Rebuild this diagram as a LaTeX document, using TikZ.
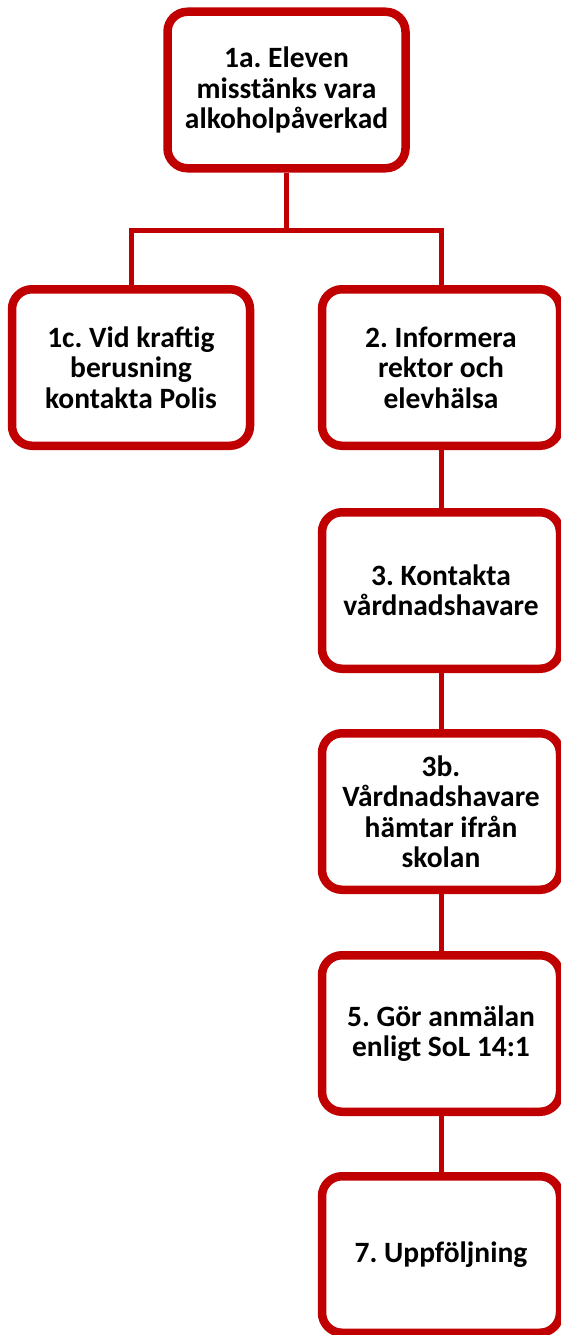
\documentclass[tikz,border=0pt]{standalone}
\usepackage{fontspec}
\setmainfont{Carlito}
\usetikzlibrary{shadows}
\definecolor{boxred}{RGB}{192,0,0}
\tikzset{
  stepbox/.style={draw=boxred, line width=8.5pt, fill=white, rounded corners=20pt,
    minimum width=238pt, minimum height=156.5pt, align=center,
    font=\fontsize{29.5}{30.5}\selectfont\bfseries\frenchspacing, text=black,
    drop shadow={opacity=0.3, shadow xshift=2pt, shadow yshift=-3pt}},
  link/.style={draw=boxred, line width=5pt}
}
\begin{document}
\begin{tikzpicture}[x=1pt,y=-1pt]
\useasboundingbox (0,0) rectangle (560,1335);
\coordinate (bar) at (0,230);
\node[stepbox] (a) at (286.5,90) {1a. Eleven\\misstänks vara\\alkoholpåverkad};
\node[stepbox] (b) at (131,367.5) {1c. Vid kraftig\\berusning\\kontakta Polis};
\node[stepbox] (c) at (441,367.5) {2. Informera\\rektor och\\elevhälsa};
\node[stepbox] (d) at (441,590.5) {3. Kontakta\\vårdnadshavare};
\node[stepbox] (e) at (441,811.5) {3b.\\Vårdnadshavare\\hämtar ifrån\\skolan};
\node[stepbox] (f) at (441,1033.5) {5. Gör anmälan\\enligt SoL 14:1};
\node[stepbox] (g) at (441,1254.5) {7. Uppföljning};
\draw[link] (a.south) |- (bar -| b.north) -- (b.north);
\draw[link] (a.south) |- (bar -| c.north) -- (c.north);
\draw[link] (c.south) -- (d.north);
\draw[link] (d.south) -- (e.north);
\draw[link] (e.south) -- (f.north);
\draw[link] (f.south) -- (g.north);
\end{tikzpicture}
\end{document}
